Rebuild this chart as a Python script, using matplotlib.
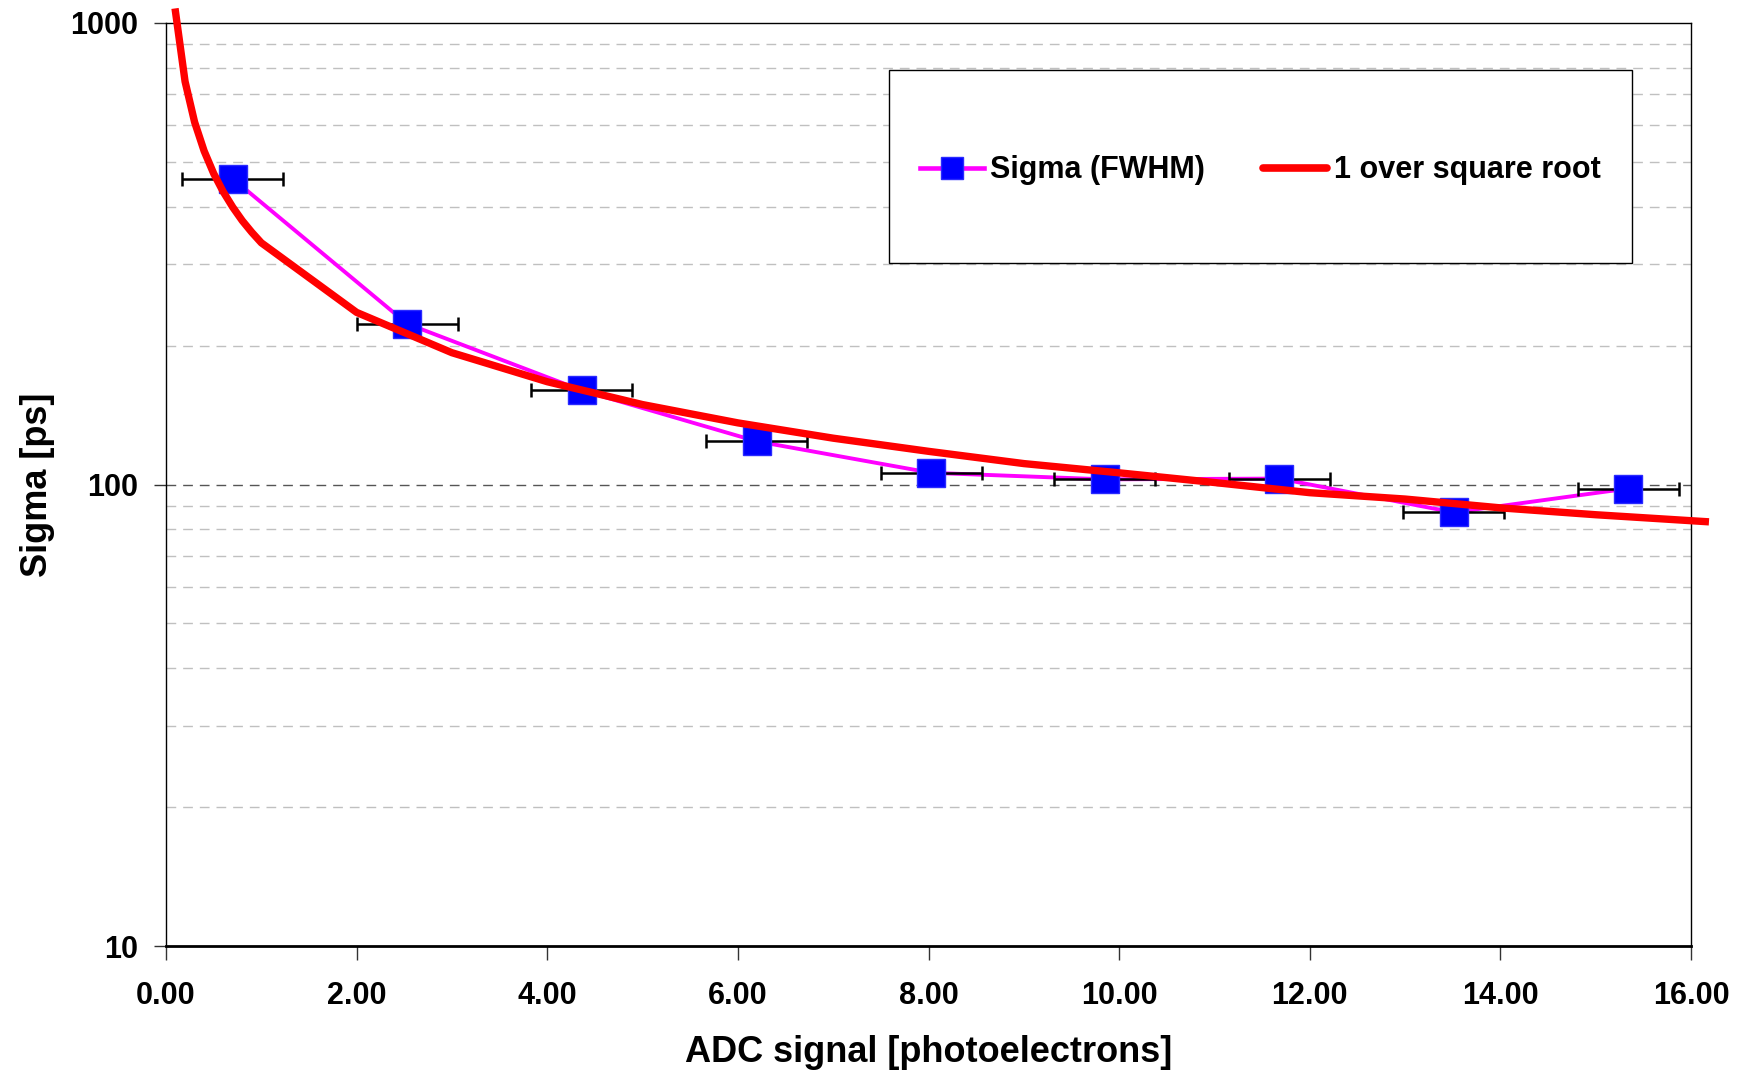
import matplotlib
matplotlib.use("Agg")
import matplotlib.pyplot as plt
from matplotlib.lines import Line2D
from matplotlib.patches import Rectangle
from matplotlib.ticker import FixedLocator, FuncFormatter, NullFormatter

plt.rcParams['font.family'] = ['Liberation Sans', 'DejaVu Sans']
plt.rcParams['font.weight'] = 'bold'

# measured data
adc_signal = [0.70, 2.53, 4.36, 6.20, 8.03, 9.85, 11.68, 13.51, 15.34]
sigma_ps = [460, 223, 160, 124, 106, 102.6, 103, 87, 98]
adc_err = [0.53, 0.53, 0.53, 0.53, 0.53, 0.53, 0.53, 0.53, 0.53]

# "1 over square root" curve
fit_x = [0.1, 0.2, 0.3, 0.4, 0.5, 0.6, 0.7, 0.8, 0.9, 1.0,
         2, 3, 4, 5, 6, 7, 8, 9, 10, 11, 12, 13, 14, 15, 16.15]
fit_y = [1056, 747, 610, 528, 472, 431, 399, 373, 352, 334,
         236, 193, 167, 149, 136, 126, 118, 111, 106, 101, 96, 93, 89, 86, 83.1]

x_ticks = [0, 2, 4, 6, 8, 10, 12, 14, 16]
y_ticks = [10, 100, 1000]
y_minor = [20, 30, 40, 50, 60, 70, 80, 90, 200, 300, 400, 500, 600, 700, 800, 900]

label_data = "Sigma (FWHM)"
label_fit = "1 over square root"

fig = plt.figure(figsize=(17.43, 10.77), dpi=100)
ax = fig.add_axes([166/1743, 1 - 946/1077, (1691-166)/1743, (946-23)/1077])

ax.set_yscale('log')
ax.set_xlim(0, 16)
ax.set_ylim(10, 1000)

# grid lines
for v in y_minor:
    ax.axhline(v, color='#c0c0c0', lw=1.0, dashes=(7, 5), zorder=1)
ax.axhline(100, color='#555555', lw=1.0, dashes=(7, 5), zorder=1)

ax.plot(adc_signal, sigma_ps, color='#ff00ff', lw=2.8, zorder=3)
ax.errorbar(adc_signal, sigma_ps, xerr=adc_err, fmt='none', ecolor='black',
            elinewidth=1.8, capsize=5, capthick=1.8, zorder=4)
ax.plot(adc_signal, sigma_ps, linestyle='none', marker='s', ms=20,
        mfc='#0000ff', mec='#2a2aff', mew=1, zorder=5)
ax.plot(fit_x, fit_y, color='#ff0000', lw=5.3, zorder=6, clip_on=False)

ax.xaxis.set_major_locator(FixedLocator(x_ticks))
ax.xaxis.set_major_formatter(FuncFormatter(lambda v, p: f"{v:.2f}"))
ax.yaxis.set_major_locator(FixedLocator(y_ticks))
ax.yaxis.set_major_formatter(FuncFormatter(lambda v, p: f"{int(v)}"))
ax.yaxis.set_minor_locator(FixedLocator(y_minor))
ax.yaxis.set_minor_formatter(NullFormatter())
ax.tick_params(axis='y', which='minor', length=0)
ax.tick_params(axis='x', which='major', direction='out', length=10, width=1,
               color='#333333', labelsize=22, pad=15)
ax.tick_params(axis='y', which='major', direction='out', length=9, width=1,
               color='#333333', labelsize=22, pad=11)
for lab in ax.get_xticklabels() + ax.get_yticklabels():
    lab.set_fontweight('bold')

for s in ['left', 'right', 'top']:
    ax.spines[s].set_linewidth(1.0)
ax.spines['bottom'].set_linewidth(2.0)

ax.set_xlabel("ADC signal [photoelectrons]", fontsize=26, fontweight='bold')
ax.set_ylabel("Sigma [ps]", fontsize=26, fontweight='bold')
ax.xaxis.set_label_coords(0.5, -0.096)
ax.yaxis.set_label_coords(-0.073, 0.5)

# legend
bx, by, bw, bh = 0.474, 0.74, 0.487, 0.209
ax.add_patch(Rectangle((bx, by), bw, bh, transform=ax.transAxes,
                       facecolor='white', edgecolor='black', lw=1.0, zorder=7))
h1 = Line2D([], [], color='#ff00ff', lw=3.3, marker='s', ms=16,
            mfc='#0000ff', mec='#2a2aff')
h2 = Line2D([], [], color='#ff0000', lw=5.5, solid_capstyle='round')
leg = ax.legend([h1, h2], [label_data, label_fit], loc='center',
                bbox_to_anchor=(bx, by - 0.004, bw, bh), ncol=2, frameon=False,
                prop={'weight': 'bold', 'size': 22}, handlelength=2.1,
                handletextpad=0.2, columnspacing=1.9)
leg.set_zorder(8)

fig.savefig("out.png", dpi=100)
